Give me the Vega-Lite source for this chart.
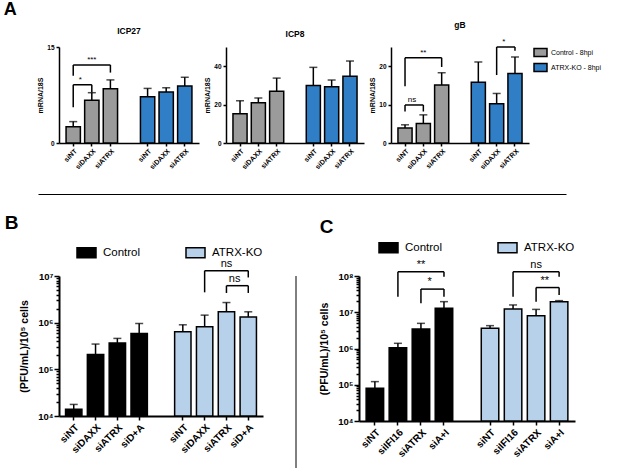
{
 "$schema": "https://vega.github.io/schema/vega-lite/v6.json",
 "padding": {"left": 3, "top": 0, "right": 0, "bottom": 0},
 "config": {
  "font": "Liberation Sans",
  "view": {"stroke": null},
  "axis": {"grid": false, "domainColor": "black", "tickColor": "black", "labelColor": "black", "titleColor": "black", "labelFontWeight": "bold", "titleFontWeight": "bold", "domainWidth": 1.5, "tickWidth": 1.5, "labelFont": "Liberation Sans", "titleFont": "Liberation Sans", "labelOverlap": false},
  "title": {"font": "Liberation Sans", "fontWeight": "bold", "color": "black"},
  "legend": {"labelFont": "Liberation Sans", "labelColor": "black", "layout": {"top": {"anchor": "end"}}}
 },
 "datasets": {
  "a": [
   {"gene": "ICP27", "group": "Control - 8hpi", "key": "Control|siNT", "mean": 2.52, "err": 3.34},
   {"gene": "ICP27", "group": "Control - 8hpi", "key": "Control|siDAXX", "mean": 6.68, "err": 7.86},
   {"gene": "ICP27", "group": "Control - 8hpi", "key": "Control|siATRX", "mean": 8.47, "err": 9.86},
   {"gene": "ICP27", "group": "ATRX-KO - 8hpi", "key": "ATRX-KO|siNT", "mean": 7.24, "err": 8.53},
   {"gene": "ICP27", "group": "ATRX-KO - 8hpi", "key": "ATRX-KO|siDAXX", "mean": 7.96, "err": 8.63},
   {"gene": "ICP27", "group": "ATRX-KO - 8hpi", "key": "ATRX-KO|siATRX", "mean": 8.89, "err": 10.27},
   {"gene": "ICP8", "group": "Control - 8hpi", "key": "Control|siNT", "mean": 15.2, "err": 22.0},
   {"gene": "ICP8", "group": "Control - 8hpi", "key": "Control|siDAXX", "mean": 20.9, "err": 23.5},
   {"gene": "ICP8", "group": "Control - 8hpi", "key": "Control|siATRX", "mean": 27.0, "err": 33.8},
   {"gene": "ICP8", "group": "ATRX-KO - 8hpi", "key": "ATRX-KO|siNT", "mean": 30.0, "err": 39.4},
   {"gene": "ICP8", "group": "ATRX-KO - 8hpi", "key": "ATRX-KO|siDAXX", "mean": 29.3, "err": 32.8},
   {"gene": "ICP8", "group": "ATRX-KO - 8hpi", "key": "ATRX-KO|siATRX", "mean": 34.8, "err": 42.7},
   {"gene": "gB", "group": "Control - 8hpi", "key": "Control|siNT", "mean": 3.88, "err": 4.74},
   {"gene": "gB", "group": "Control - 8hpi", "key": "Control|siDAXX", "mean": 5.09, "err": 7.33},
   {"gene": "gB", "group": "Control - 8hpi", "key": "Control|siATRX", "mean": 15.1, "err": 18.3},
   {"gene": "gB", "group": "ATRX-KO - 8hpi", "key": "ATRX-KO|siNT", "mean": 15.8, "err": 21.1},
   {"gene": "gB", "group": "ATRX-KO - 8hpi", "key": "ATRX-KO|siDAXX", "mean": 10.2, "err": 12.9},
   {"gene": "gB", "group": "ATRX-KO - 8hpi", "key": "ATRX-KO|siATRX", "mean": 18.1, "err": 22.4}
  ],
  "pfu": [
   {"panel": "B", "group": "Control", "key": "Control|siNT", "mean": 13900, "err": 17700},
   {"panel": "B", "group": "Control", "key": "Control|siDAXX", "mean": 207000, "err": 348000},
   {"panel": "B", "group": "Control", "key": "Control|siATRX", "mean": 366000, "err": 460000},
   {"panel": "B", "group": "Control", "key": "Control|siD+A", "mean": 589000, "err": 960000},
   {"panel": "B", "group": "ATRX-KO", "key": "ATRX-KO|siNT", "mean": 638000, "err": 900000},
   {"panel": "B", "group": "ATRX-KO", "key": "ATRX-KO|siDAXX", "mean": 816000, "err": 1450000},
   {"panel": "B", "group": "ATRX-KO", "key": "ATRX-KO|siATRX", "mean": 1710000, "err": 2700000},
   {"panel": "B", "group": "ATRX-KO", "key": "ATRX-KO|siD+A", "mean": 1330000, "err": 1710000},
   {"panel": "C", "group": "Control", "key": "Control|siNT", "mean": 79600, "err": 122000},
   {"panel": "C", "group": "Control", "key": "Control|siIFI16", "mean": 1050000, "err": 1390000},
   {"panel": "C", "group": "Control", "key": "Control|siATRX", "mean": 3450000, "err": 4940000},
   {"panel": "C", "group": "Control", "key": "Control|siA+I", "mean": 12800000, "err": 19600000},
   {"panel": "C", "group": "ATRX-KO", "key": "ATRX-KO|siNT", "mean": 3600000, "err": 4270000},
   {"panel": "C", "group": "ATRX-KO", "key": "ATRX-KO|siIFI16", "mean": 12300000, "err": 15900000},
   {"panel": "C", "group": "ATRX-KO", "key": "ATRX-KO|siATRX", "mean": 8050000, "err": 12000000},
   {"panel": "C", "group": "ATRX-KO", "key": "ATRX-KO|siA+I", "mean": 19600000, "err": 20900000}
  ],
  "br": [
   {"panel": "ICP27", "x1": "Control|siNT", "x2": "Control|siATRX", "mid": "Control|siDAXX", "y": 12.2, "yl": 10.5, "yr": 11.0, "label": "***"},
   {"panel": "ICP27", "x1": "Control|siNT", "x2": "Control|siDAXX", "mid": null, "y": 9.1, "yl": 5.6, "yr": 7.9, "label": "*"},
   {"panel": "gB", "x1": "Control|siNT", "x2": "Control|siATRX", "mid": "Control|siDAXX", "y": 22.2, "yl": 14.8, "yr": 19.8, "label": "**"},
   {"panel": "gB", "x1": "Control|siNT", "x2": "Control|siDAXX", "mid": null, "y": 9.9, "yl": 8.2, "yr": 8.2, "label": "ns"},
   {"panel": "gB", "x1": "ATRX-KO|siDAXX", "x2": "ATRX-KO|siATRX", "mid": null, "y": 25.0, "yl": 17.7, "yr": 24.0, "label": "*"},
   {"panel": "B", "x1": "ATRX-KO|siDAXX", "x2": "ATRX-KO|siD+A", "mid": "ATRX-KO|siATRX", "y": 13000000, "yl": 4470000, "yr": 9300000, "label": "ns"},
   {"panel": "B", "x1": "ATRX-KO|siATRX", "x2": "ATRX-KO|siD+A", "mid": null, "y": 6200000, "yl": 4330000, "yr": 4330000, "label": "ns"},
   {"panel": "C", "x1": "Control|siIFI16", "x2": "Control|siA+I", "mid": "Control|siATRX", "y": 132000000, "yl": 26900000, "yr": 96000000, "label": "**"},
   {"panel": "C", "x1": "Control|siATRX", "x2": "Control|siA+I", "mid": null, "y": 43500000, "yl": 17800000, "yr": 26900000, "label": "*"},
   {"panel": "C", "x1": "ATRX-KO|siIFI16", "x2": "ATRX-KO|siA+I", "mid": "ATRX-KO|siATRX", "y": 132000000, "yl": 26900000, "yr": 96000000, "label": "ns"},
   {"panel": "C", "x1": "ATRX-KO|siATRX", "x2": "ATRX-KO|siA+I", "mid": null, "y": 48000000, "yl": 19600000, "yr": 30000000, "label": "**"}
  ]
 },
 "resolve": {"scale": {"x": "independent", "y": "independent", "color": "independent"}},
 "spacing": 1,
 "vconcat": [
  {
   "title": {"text": "A", "anchor": "start", "fontSize": 18, "dx": -33, "offset": 2},
   "bounds": "flush",
   "spacing": 27,
   "resolve": {"scale": {"x": "independent", "y": "independent", "color": "independent"}},
   "hconcat": [
    {
     "width": 140, "height": 96,
     "title": {"text": "ICP27", "fontSize": 8.5, "offset": 9},
     "resolve": {"scale": {"x": "independent"}, "axis": {"x": "independent"}},
     "layer": [
      {"layer": [
      {"data": {"name": "a"}, "transform": [{"filter": "datum.gene == 'ICP27'"}],
       "layer": [
        {"mark": {"type": "bar", "stroke": "black", "strokeWidth": 1.5},
         "encoding": {
          "x": {"field": "key", "type": "nominal", "title": null, "scale": {"domain": ["Control|siNT", "Control|siDAXX", "Control|siATRX", "gap", "ATRX-KO|siNT", "ATRX-KO|siDAXX", "ATRX-KO|siATRX"], "paddingInner": 0.23, "paddingOuter": 0.38},
                "axis": {"orient": "bottom", "labelAngle": -45, "labelFontSize": 7, "tickSize": 3, "labelPadding": 1, "labelExpr": "indexof(datum.value, '|') >= 0 ? split(datum.value, '|')[1] : ''", "tickOpacity": {"condition": {"test": "datum.value == 'gap'", "value": 0}, "value": 1}}},
          "y": {"field": "mean", "type": "quantitative", "stack": null, "title": "mRNA/18S", "scale": {"domain": [0, 15], "nice": false}, "axis": {"values": [0, 5, 10, 15], "tickSize": 3, "labelFontSize": 6.5, "titleFontSize": 7, "labelPadding": 2, "titlePadding": 3}},
          "color": {"field": "group", "type": "nominal", "scale": {"domain": ["Control - 8hpi", "ATRX-KO - 8hpi"], "range": ["#9b9b9b", "#2f7ec6"]}, "legend": null}
         }},
        {"mark": {"type": "rule", "color": "black", "strokeWidth": 1.5},
         "encoding": {"x": {"field": "key", "type": "nominal"}, "y": {"field": "mean", "type": "quantitative"}, "y2": {"field": "err"}}},
        {"mark": {"type": "tick", "color": "black", "size": 8, "thickness": 1.5},
         "encoding": {"x": {"field": "key", "type": "nominal"}, "y": {"field": "err", "type": "quantitative"}}}
       ]},
      {"data": {"name": "br"}, "transform": [{"filter": "datum.panel == 'ICP27'"}],
       "layer": [
        {"mark": {"type": "rule", "color": "black", "strokeWidth": 1.5, "clip": false},
         "encoding": {"x": {"field": "x1", "type": "nominal"}, "x2": {"field": "x2"}, "y": {"field": "y", "type": "quantitative"}}},
        {"mark": {"type": "rule", "color": "black", "strokeWidth": 1.5, "clip": false},
         "encoding": {"x": {"field": "x1", "type": "nominal"}, "y": {"field": "y", "type": "quantitative"}, "y2": {"field": "yl"}}},
        {"mark": {"type": "rule", "color": "black", "strokeWidth": 1.5, "clip": false},
         "encoding": {"x": {"field": "x2", "type": "nominal"}, "y": {"field": "y", "type": "quantitative"}, "y2": {"field": "yr"}}},
        {"transform": [{"filter": "datum.mid != null"}],
         "mark": {"type": "text", "fontSize": 8, "baseline": "alphabetic", "dy": -3, "clip": false, "color": "black"},
         "encoding": {"x": {"field": "mid", "type": "nominal"}, "y": {"field": "y", "type": "quantitative"}, "text": {"field": "label"}}},
        {"transform": [{"filter": "datum.mid == null"}],
         "mark": {"type": "text", "fontSize": 8, "baseline": "alphabetic", "dy": -3, "clip": false, "color": "black"},
         "encoding": {"x": {"field": "x1", "type": "nominal", "bandPosition": 1}, "y": {"field": "y", "type": "quantitative"}, "text": {"field": "label"}}}
       ]}
      ]},
      {"data": {"values": [{}]},
       "mark": {"type": "rule", "opacity": 0},
       "encoding": {"x": {"datum": 0, "type": "quantitative", "scale": {"domain": [0, 1], "range": [-21, 507]},
                          "axis": {"orient": "bottom", "offset": 51, "labels": false, "ticks": false, "title": null, "domain": true, "domainWidth": 1, "domainColor": "black"}}}}
     ]
    },
    {
     "width": 138, "height": 96,
     "title": {"text": "ICP8", "fontSize": 8.5, "offset": 9},
     "layer": [
      {"data": {"name": "a"}, "transform": [{"filter": "datum.gene == 'ICP8'"}],
       "layer": [
        {"mark": {"type": "bar", "stroke": "black", "strokeWidth": 1.5},
         "encoding": {
          "x": {"field": "key", "type": "nominal", "title": null, "scale": {"domain": ["Control|siNT", "Control|siDAXX", "Control|siATRX", "gap", "ATRX-KO|siNT", "ATRX-KO|siDAXX", "ATRX-KO|siATRX"], "paddingInner": 0.23, "paddingOuter": 0.38},
                "axis": {"labelAngle": -45, "labelFontSize": 7, "tickSize": 3, "labelPadding": 1, "labelExpr": "indexof(datum.value, '|') >= 0 ? split(datum.value, '|')[1] : ''", "tickOpacity": {"condition": {"test": "datum.value == 'gap'", "value": 0}, "value": 1}}},
          "y": {"field": "mean", "type": "quantitative", "stack": null, "title": "mRNA/18S", "scale": {"domain": [0, 50], "nice": false}, "axis": {"values": [0, 10, 20, 30, 40, 50], "tickSize": 3, "labelFontSize": 6.5, "titleFontSize": 7, "labelPadding": 2, "titlePadding": 3}},
          "color": {"field": "group", "type": "nominal", "scale": {"domain": ["Control - 8hpi", "ATRX-KO - 8hpi"], "range": ["#9b9b9b", "#2f7ec6"]}, "legend": null}
         }},
        {"mark": {"type": "rule", "color": "black", "strokeWidth": 1.5},
         "encoding": {"x": {"field": "key", "type": "nominal"}, "y": {"field": "mean", "type": "quantitative"}, "y2": {"field": "err"}}},
        {"mark": {"type": "tick", "color": "black", "size": 8, "thickness": 1.5},
         "encoding": {"x": {"field": "key", "type": "nominal"}, "y": {"field": "err", "type": "quantitative"}}}
       ]}
     ]
    },
    {
     "width": 138, "height": 96,
     "title": {"text": "gB", "fontSize": 8.5, "offset": 9},
     "layer": [
      {"data": {"name": "a"}, "transform": [{"filter": "datum.gene == 'gB'"}],
       "layer": [
        {"mark": {"type": "bar", "stroke": "black", "strokeWidth": 1.5},
         "encoding": {
          "x": {"field": "key", "type": "nominal", "title": null, "scale": {"domain": ["Control|siNT", "Control|siDAXX", "Control|siATRX", "gap", "ATRX-KO|siNT", "ATRX-KO|siDAXX", "ATRX-KO|siATRX"], "paddingInner": 0.23, "paddingOuter": 0.38},
                "axis": {"labelAngle": -45, "labelFontSize": 7, "tickSize": 3, "labelPadding": 1, "labelExpr": "indexof(datum.value, '|') >= 0 ? split(datum.value, '|')[1] : ''", "tickOpacity": {"condition": {"test": "datum.value == 'gap'", "value": 0}, "value": 1}}},
          "y": {"field": "mean", "type": "quantitative", "stack": null, "title": "mRNA/18S", "scale": {"domain": [0, 25], "nice": false}, "axis": {"values": [0, 5, 10, 15, 20, 25], "tickSize": 3, "labelFontSize": 6.5, "titleFontSize": 7, "labelPadding": 2, "titlePadding": 3}},
          "color": {"field": "group", "type": "nominal", "scale": {"domain": ["Control - 8hpi", "ATRX-KO - 8hpi"], "range": ["#9b9b9b", "#2f7ec6"]},
                    "legend": {"orient": "right", "title": null, "symbolType": "M-1.5,-0.9H1.5V0.9H-1.5Z", "symbolSize": 75, "symbolStrokeColor": "black", "symbolStrokeWidth": 1.5, "symbolOpacity": 1, "labelFontSize": 7, "rowPadding": 0, "offset": 6, "padding": 0, "labelOffset": 5}}
         }},
        {"mark": {"type": "rule", "color": "black", "strokeWidth": 1.5},
         "encoding": {"x": {"field": "key", "type": "nominal"}, "y": {"field": "mean", "type": "quantitative"}, "y2": {"field": "err"}}},
        {"mark": {"type": "tick", "color": "black", "size": 8, "thickness": 1.5},
         "encoding": {"x": {"field": "key", "type": "nominal"}, "y": {"field": "err", "type": "quantitative"}}}
       ]},
      {"data": {"name": "br"}, "transform": [{"filter": "datum.panel == 'gB'"}],
       "layer": [
        {"mark": {"type": "rule", "color": "black", "strokeWidth": 1.5, "clip": false},
         "encoding": {"x": {"field": "x1", "type": "nominal"}, "x2": {"field": "x2"}, "y": {"field": "y", "type": "quantitative"}}},
        {"mark": {"type": "rule", "color": "black", "strokeWidth": 1.5, "clip": false},
         "encoding": {"x": {"field": "x1", "type": "nominal"}, "y": {"field": "y", "type": "quantitative"}, "y2": {"field": "yl"}}},
        {"mark": {"type": "rule", "color": "black", "strokeWidth": 1.5, "clip": false},
         "encoding": {"x": {"field": "x2", "type": "nominal"}, "y": {"field": "y", "type": "quantitative"}, "y2": {"field": "yr"}}},
        {"transform": [{"filter": "datum.mid != null"}],
         "mark": {"type": "text", "fontSize": 8, "baseline": "alphabetic", "dy": -3, "clip": false, "color": "black"},
         "encoding": {"x": {"field": "mid", "type": "nominal"}, "y": {"field": "y", "type": "quantitative"}, "text": {"field": "label"}}},
        {"transform": [{"filter": "datum.mid == null"}],
         "mark": {"type": "text", "fontSize": 8, "baseline": "alphabetic", "dy": -3, "clip": false, "color": "black"},
         "encoding": {"x": {"field": "x1", "type": "nominal", "bandPosition": 1}, "y": {"field": "y", "type": "quantitative"}, "text": {"field": "label"}}}
       ]}
     ]
    }
   ]
  },
  {
   "spacing": 32,
   "resolve": {"scale": {"x": "independent", "y": "independent", "color": "independent"}},
   "hconcat": [
    {"resolve": {"scale": {"x": "independent", "y": "independent", "color": "independent"}, "legend": {"color": "independent"}},
     "vconcat": [
    {
     "width": 204, "height": 140,
     "title": {"text": ["", "B"], "anchor": "start", "fontSize": 19, "lineHeight": 19, "dx": -15, "offset": 9},
     "layer": [
      {"data": {"name": "pfu"}, "transform": [{"filter": "datum.panel == 'B'"}],
       "layer": [
        {"mark": {"type": "bar", "stroke": "black", "strokeWidth": 1.5},
         "encoding": {
          "x": {"field": "key", "type": "nominal", "title": null, "scale": {"domain": ["Control|siNT", "Control|siDAXX", "Control|siATRX", "Control|siD+A", "gap", "ATRX-KO|siNT", "ATRX-KO|siDAXX", "ATRX-KO|siATRX", "ATRX-KO|siD+A"], "paddingInner": 0.25, "paddingOuter": 0.3},
                "axis": {"labelAngle": -45, "labelFontSize": 10, "tickSize": 4, "labelPadding": 2, "domainWidth": 2, "labelExpr": "indexof(datum.value, '|') >= 0 ? split(datum.value, '|')[1] : ''", "tickOpacity": {"condition": {"test": "datum.value == 'gap'", "value": 0}, "value": 1}}},
          "y": {"field": "mean", "type": "quantitative", "stack": null, "title": "(PFU/mL)/10⁵ cells", "scale": {"type": "log", "domain": [10000, 10000000], "nice": false},
                "axis": {"values": [1e4, 2e4, 3e4, 4e4, 5e4, 6e4, 7e4, 8e4, 9e4, 1e5, 2e5, 3e5, 4e5, 5e5, 6e5, 7e5, 8e5, 9e5, 1e6, 2e6, 3e6, 4e6, 5e6, 6e6, 7e6, 8e6, 9e6, 1e7],
                         "labelExpr": "abs(log(datum.value)/LN10 - round(log(datum.value)/LN10)) < 0.01 ? '10' + ['⁰','¹','²','³','⁴','⁵','⁶','⁷','⁸','⁹'][round(log(datum.value)/LN10)] : ''",
                         "tickSize": {"condition": {"test": "abs(log(datum.value)/LN10 - round(log(datum.value)/LN10)) < 0.01", "value": 5}, "value": 3},
                         "domainWidth": 2, "labelFontSize": 9.5, "titleFontSize": 10.5, "labelPadding": 1, "titlePadding": 8}},
          "color": {"field": "group", "type": "nominal", "scale": {"domain": ["Control", "ATRX-KO"], "range": ["#000000", "#b7d1ea"]},
                    "legend": {"orient": "top", "direction": "horizontal", "title": null, "symbolType": "M-1,-0.53H1V0.53H-1Z", "symbolSize": 361, "symbolStrokeColor": "black", "symbolStrokeWidth": 1.5, "symbolOpacity": 1, "labelFontSize": 11.5, "labelFontWeight": "normal", "columnPadding": 42, "offset": 15, "labelOffset": 6, "padding": 0}}
         }},
        {"mark": {"type": "rule", "color": "black", "strokeWidth": 1.5},
         "encoding": {"x": {"field": "key", "type": "nominal"}, "y": {"field": "mean", "type": "quantitative"}, "y2": {"field": "err"}}},
        {"mark": {"type": "tick", "color": "black", "size": 8, "thickness": 1.5},
         "encoding": {"x": {"field": "key", "type": "nominal"}, "y": {"field": "err", "type": "quantitative"}}}
       ]},
      {"data": {"name": "br"}, "transform": [{"filter": "datum.panel == 'B'"}],
       "layer": [
        {"mark": {"type": "rule", "color": "black", "strokeWidth": 1.5, "clip": false},
         "encoding": {"x": {"field": "x1", "type": "nominal"}, "x2": {"field": "x2"}, "y": {"field": "y", "type": "quantitative"}}},
        {"mark": {"type": "rule", "color": "black", "strokeWidth": 1.5, "clip": false},
         "encoding": {"x": {"field": "x1", "type": "nominal"}, "y": {"field": "y", "type": "quantitative"}, "y2": {"field": "yl"}}},
        {"mark": {"type": "rule", "color": "black", "strokeWidth": 1.5, "clip": false},
         "encoding": {"x": {"field": "x2", "type": "nominal"}, "y": {"field": "y", "type": "quantitative"}, "y2": {"field": "yr"}}},
        {"transform": [{"filter": "datum.mid != null"}],
         "mark": {"type": "text", "fontSize": 11, "baseline": "alphabetic", "dy": -4, "clip": false, "color": "black"},
         "encoding": {"x": {"field": "mid", "type": "nominal"}, "y": {"field": "y", "type": "quantitative"}, "text": {"field": "label"}}},
        {"transform": [{"filter": "datum.mid == null"}],
         "mark": {"type": "text", "fontSize": 11, "baseline": "alphabetic", "dy": -4, "clip": false, "color": "black"},
         "encoding": {"x": {"field": "x1", "type": "nominal", "bandPosition": 1}, "y": {"field": "y", "type": "quantitative"}, "text": {"field": "label"}}}
       ]}
     ]
    }]},
    {
     "spacing": 22,
     "resolve": {"scale": {"x": "independent", "y": "independent", "color": "independent"}},
     "hconcat": [
      {"width": 1, "height": 232, "data": {"values": [{}]}, "mark": {"type": "rule", "color": "black", "strokeWidth": 1},
       "encoding": {"x": {"datum": 0, "type": "quantitative", "scale": {"domain": [0, 1]}, "axis": null}}},
      {"resolve": {"scale": {"x": "independent", "y": "independent", "color": "independent"}, "legend": {"color": "independent"}},
       "vconcat": [
      {
       "width": 216, "height": 145,
       "title": {"text": ["", "C"], "anchor": "start", "fontSize": 19, "lineHeight": 19, "dx": 0, "offset": 0},
       "layer": [
        {"data": {"name": "pfu"}, "transform": [{"filter": "datum.panel == 'C'"}],
         "layer": [
          {"mark": {"type": "bar", "stroke": "black", "strokeWidth": 1.5},
           "encoding": {
            "x": {"field": "key", "type": "nominal", "title": null, "scale": {"domain": ["Control|siNT", "Control|siIFI16", "Control|siATRX", "Control|siA+I", "gap", "ATRX-KO|siNT", "ATRX-KO|siIFI16", "ATRX-KO|siATRX", "ATRX-KO|siA+I"], "paddingInner": 0.24, "paddingOuter": 0.31},
                  "axis": {"labelAngle": -45, "labelFontSize": 10, "tickSize": 4, "labelPadding": 2, "domainWidth": 2, "labelExpr": "indexof(datum.value, '|') >= 0 ? split(datum.value, '|')[1] : ''", "tickOpacity": {"condition": {"test": "datum.value == 'gap'", "value": 0}, "value": 1}}},
            "y": {"field": "mean", "type": "quantitative", "stack": null, "title": "(PFU/mL)/10⁵ cells", "scale": {"type": "log", "domain": [10000, 100000000], "nice": false},
                  "axis": {"values": [1e4, 2e4, 3e4, 4e4, 5e4, 6e4, 7e4, 8e4, 9e4, 1e5, 2e5, 3e5, 4e5, 5e5, 6e5, 7e5, 8e5, 9e5, 1e6, 2e6, 3e6, 4e6, 5e6, 6e6, 7e6, 8e6, 9e6, 1e7, 2e7, 3e7, 4e7, 5e7, 6e7, 7e7, 8e7, 9e7, 1e8],
                           "labelExpr": "abs(log(datum.value)/LN10 - round(log(datum.value)/LN10)) < 0.01 ? '10' + ['⁰','¹','²','³','⁴','⁵','⁶','⁷','⁸','⁹'][round(log(datum.value)/LN10)] : ''",
                           "tickSize": {"condition": {"test": "abs(log(datum.value)/LN10 - round(log(datum.value)/LN10)) < 0.01", "value": 5}, "value": 3},
                           "domainWidth": 2, "labelFontSize": 9.5, "titleFontSize": 10.5, "labelPadding": 1, "titlePadding": 8}},
            "color": {"field": "group", "type": "nominal", "scale": {"domain": ["Control", "ATRX-KO"], "range": ["#000000", "#b7d1ea"]},
                      "legend": {"orient": "top", "direction": "horizontal", "title": null, "symbolType": "M-1,-0.53H1V0.53H-1Z", "symbolSize": 361, "symbolStrokeColor": "black", "symbolStrokeWidth": 1.5, "symbolOpacity": 1, "labelFontSize": 11.5, "labelFontWeight": "normal", "columnPadding": 52, "offset": 20, "labelOffset": 6, "padding": 0}}
           }},
          {"mark": {"type": "rule", "color": "black", "strokeWidth": 1.5},
           "encoding": {"x": {"field": "key", "type": "nominal"}, "y": {"field": "mean", "type": "quantitative"}, "y2": {"field": "err"}}},
          {"mark": {"type": "tick", "color": "black", "size": 8, "thickness": 1.5},
           "encoding": {"x": {"field": "key", "type": "nominal"}, "y": {"field": "err", "type": "quantitative"}}}
         ]},
        {"data": {"name": "br"}, "transform": [{"filter": "datum.panel == 'C'"}],
         "layer": [
          {"mark": {"type": "rule", "color": "black", "strokeWidth": 1.5, "clip": false},
           "encoding": {"x": {"field": "x1", "type": "nominal"}, "x2": {"field": "x2"}, "y": {"field": "y", "type": "quantitative"}}},
          {"mark": {"type": "rule", "color": "black", "strokeWidth": 1.5, "clip": false},
           "encoding": {"x": {"field": "x1", "type": "nominal"}, "y": {"field": "y", "type": "quantitative"}, "y2": {"field": "yl"}}},
          {"mark": {"type": "rule", "color": "black", "strokeWidth": 1.5, "clip": false},
           "encoding": {"x": {"field": "x2", "type": "nominal"}, "y": {"field": "y", "type": "quantitative"}, "y2": {"field": "yr"}}},
          {"transform": [{"filter": "datum.mid != null"}],
           "mark": {"type": "text", "fontSize": 11, "baseline": "alphabetic", "dy": -4, "clip": false, "color": "black"},
           "encoding": {"x": {"field": "mid", "type": "nominal"}, "y": {"field": "y", "type": "quantitative"}, "text": {"field": "label"}}},
          {"transform": [{"filter": "datum.mid == null"}],
           "mark": {"type": "text", "fontSize": 11, "baseline": "alphabetic", "dy": -4, "clip": false, "color": "black"},
           "encoding": {"x": {"field": "x1", "type": "nominal", "bandPosition": 1}, "y": {"field": "y", "type": "quantitative"}, "text": {"field": "label"}}}
         ]}
       ]
      }]}
     ]
    }
   ]
  }
 ]
}
